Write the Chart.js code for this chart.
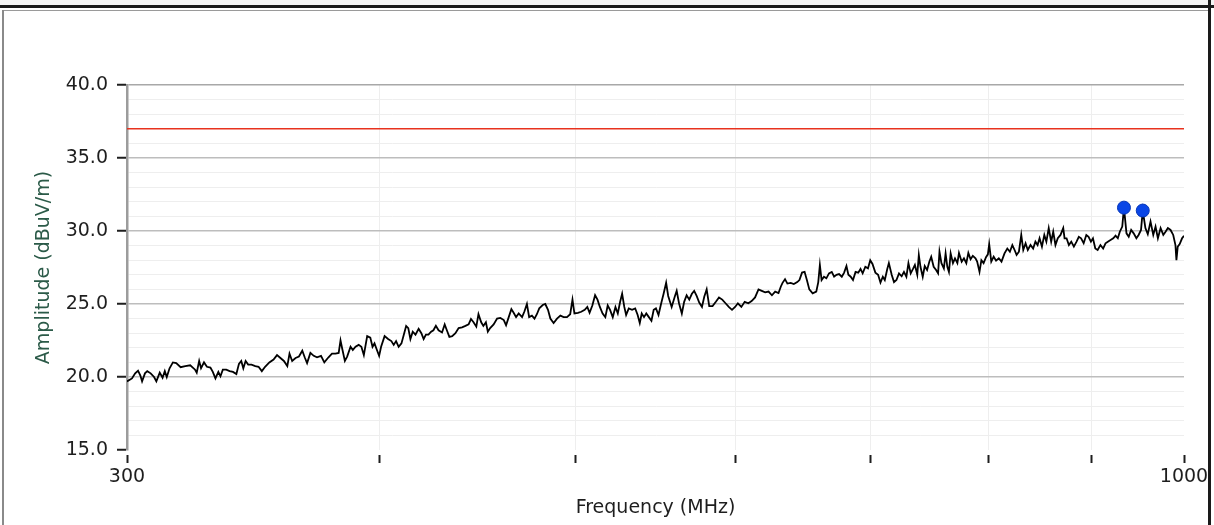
<!DOCTYPE html>
<html>
<head>
<meta charset="utf-8">
<script src="https://cdn.jsdelivr.net/npm/chart.js@4.4.1/dist/chart.umd.min.js"></script>
<style>
  html, body { margin: 0; padding: 0; background: #fff; }
  #wrap { position: relative; width: 1214px; height: 525px; overflow: hidden; }
  #my_graph { position: absolute; left: 0; top: 0; }
  .edge { position: absolute; pointer-events: none; }
</style>
</head>
<body>
<div id="wrap">
  <canvas id="my_graph" width="1214" height="525"></canvas>
  <div class="edge" style="left:0;top:0;width:1214px;height:5px;background:#f4f4f4;"></div>
  <div class="edge" style="left:0;top:5px;width:1214px;height:3px;background:#1a1a1a;"></div>
  <div class="edge" style="left:3px;top:10px;width:1206px;height:1px;background:#9a9a9a;"></div>
  <div class="edge" style="left:2px;top:10px;width:2px;height:515px;background:#8a8a8a;"></div>
  <div class="edge" style="left:1208px;top:0;width:3px;height:525px;background:#1a1a1a;"></div>
</div>
<script>
// measured trace, frequency in MHz / amplitude in dBuV/m
const freqMHz = [
  300.0, 301.7, 302.8, 303.8, 304.6, 305.2, 306.2, 307.0, 308.2, 309.4,
  310.2, 311.4, 312.4, 313.2, 313.9, 314.9, 316.1, 317.3, 318.9, 320.6,
  322.4, 324.2, 324.8, 325.7, 326.4, 327.5, 328.6, 329.9, 330.8, 331.8,
  332.9, 333.7, 334.6, 335.9, 337.2, 338.5, 339.8, 340.8, 341.7, 342.5,
  343.4, 344.4, 345.7, 347.2, 348.5, 349.8, 351.1, 352.8, 354.5, 355.9,
  357.3, 358.7, 360.1, 361.0, 362.1, 363.5, 364.9, 366.3, 367.3, 368.3,
  369.7, 371.1, 372.5, 374.2, 375.6, 377.4, 378.9, 380.4, 381.8, 382.6,
  383.3, 384.5, 385.5, 387.0, 388.0, 389.2, 390.6, 391.8, 392.9, 394.4,
  395.8, 396.8, 397.7, 398.8, 399.8, 400.7, 402.3, 403.9, 405.4, 406.5,
  407.6, 408.8, 410.1, 411.2, 412.3, 413.3, 414.3, 415.4, 416.7, 418.2,
  419.5, 420.6, 421.7, 422.9, 424.2, 425.3, 426.5, 427.8, 429.5, 430.8,
  432.0, 433.1, 434.5, 436.1, 437.7, 439.4, 441.1, 442.7, 443.9, 445.2,
  446.6, 447.7, 449.1, 450.2, 451.5, 452.5, 453.7, 455.5, 457.3, 459.0,
  460.8, 462.0, 463.4, 464.8, 466.0, 467.3, 468.7, 470.5, 471.8, 473.1,
  474.3, 475.8, 477.2, 478.5, 479.8, 481.7, 483.1, 484.6, 485.9, 487.7,
  489.6, 491.5, 493.3, 495.2, 497.0, 498.3, 499.4, 501.4, 503.3, 505.3,
  506.8, 508.1, 509.7, 511.3, 512.7, 514.1, 515.7, 517.3, 518.7, 520.1,
  521.7, 523.3, 524.7, 526.1, 527.3, 528.6, 529.7, 531.3, 533.3, 535.2,
  536.7, 538.0, 539.2, 540.6, 542.0, 543.6, 545.2, 546.6, 548.0, 549.6,
  551.3, 552.8, 554.4, 555.7, 557.9, 560.0, 561.1, 562.6, 564.4, 565.9,
  567.5, 569.2, 570.9, 572.4, 574.0, 575.7, 577.5, 579.0, 580.6, 582.3,
  584.5, 586.7, 588.8, 591.0, 593.2, 595.4, 597.6, 599.7, 601.6, 604.0,
  606.3, 608.8, 611.1, 613.5, 615.9, 618.2, 620.6, 623.0, 625.4, 627.7,
  630.1, 631.8, 633.0, 634.8, 636.5, 638.9, 641.2, 643.7, 645.3, 647.2,
  649.1, 650.8, 652.6, 655.1, 657.8, 659.3, 660.5, 661.8, 663.6, 665.4,
  667.4, 669.5, 671.3, 673.1, 675.1, 677.2, 679.0, 680.8, 682.3, 684.1,
  685.9, 687.9, 690.0, 691.8, 693.5, 695.6, 697.7, 699.5, 701.3, 703.6,
  705.8, 707.7, 709.6, 711.2, 713.2, 714.5, 716.8, 718.7, 720.7, 722.8,
  725.0, 726.9, 728.9, 730.6, 732.5, 734.4, 736.0, 738.0, 739.3, 740.7,
  742.6, 744.3, 746.3, 748.2, 749.8, 751.9, 754.0, 755.7, 756.9, 758.6,
  760.7, 762.2, 763.7, 765.1, 766.6, 768.6, 770.4, 772.5, 773.9, 776.3,
  778.3, 780.4, 782.2, 784.2, 786.2, 788.6, 790.1, 792.2, 793.9, 795.9,
  798.1, 799.8, 801.0, 802.9, 805.1, 807.3, 809.8, 812.3, 815.1, 817.7,
  820.1, 822.4, 824.5, 826.4, 828.6, 830.8, 832.7, 834.9, 837.0, 839.6,
  842.1, 844.3, 846.4, 848.3, 850.6, 852.9, 854.9, 857.2, 859.6, 861.6,
  863.8, 866.1, 868.8, 871.5, 872.8, 874.8, 877.1, 879.5, 882.1, 884.8,
  887.1, 889.4, 892.0, 894.7, 897.0, 899.4, 901.5, 903.9, 906.3, 909.2,
  912.0, 914.5, 916.9, 919.7, 922.6, 925.0, 927.4, 929.5, 932.1, 933.9,
  936.6, 939.0, 941.6, 944.3, 947.2, 949.6, 952.2, 954.1, 957.0, 959.6,
  962.6, 965.6, 968.1, 970.7, 973.7, 976.7, 979.2, 981.8, 984.8, 987.8,
  990.3, 991.4, 992.9, 995.1, 997.8, 1000.0
];
const amplitude = [
  19.70, 19.90, 20.25, 20.43, 20.10, 19.70, 20.25, 20.40, 20.25, 20.00,
  19.70, 20.30, 19.95, 20.40, 20.00, 20.60, 21.00, 20.95, 20.67, 20.75,
  20.80, 20.50, 20.30, 21.10, 20.60, 21.00, 20.70, 20.65, 20.35, 19.90,
  20.35, 20.05, 20.50, 20.50, 20.40, 20.35, 20.20, 20.90, 21.10, 20.60,
  21.10, 20.85, 20.85, 20.75, 20.70, 20.40, 20.70, 21.00, 21.20, 21.50,
  21.30, 21.10, 20.75, 21.60, 21.10, 21.30, 21.40, 21.80, 21.35, 20.95,
  21.65, 21.45, 21.35, 21.45, 21.00, 21.35, 21.60, 21.60, 21.65, 22.50,
  21.97, 21.10, 21.40, 22.07, 21.85, 22.07, 22.20, 22.07, 21.50, 22.80,
  22.70, 22.07, 22.30, 21.85, 21.45, 22.07, 22.80, 22.60, 22.46, 22.20,
  22.46, 22.07, 22.30, 22.90, 23.50, 23.35, 22.60, 23.10, 22.90, 23.30,
  23.00, 22.60, 22.90, 22.90, 23.10, 23.20, 23.50, 23.20, 23.05, 23.60,
  23.15, 22.75, 22.80, 23.00, 23.35, 23.40, 23.50, 23.60, 23.97, 23.75,
  23.45, 24.30, 23.75, 23.50, 23.75, 23.10, 23.35, 23.60, 24.00, 24.05,
  23.90, 23.55, 24.10, 24.65, 24.40, 24.10, 24.35, 24.10, 24.50, 25.00,
  24.10, 24.20, 24.00, 24.30, 24.70, 24.93, 25.00, 24.60, 24.00, 23.70,
  24.00, 24.20, 24.10, 24.10, 24.30, 25.30, 24.35, 24.40, 24.47, 24.60,
  24.80, 24.40, 24.90, 25.60, 25.30, 24.80, 24.35, 24.10, 24.90, 24.60,
  24.10, 24.80, 24.35, 25.15, 25.70, 24.80, 24.25, 24.70, 24.60, 24.70,
  24.25, 23.70, 24.35, 24.10, 24.35, 24.10, 23.85, 24.60, 24.70, 24.25,
  25.05, 25.70, 26.45, 25.55, 24.80, 25.55, 25.90, 25.05, 24.35, 25.15,
  25.60, 25.30, 25.70, 25.90, 25.55, 25.10, 24.80, 25.50, 26.00, 24.86,
  24.86, 25.15, 25.45, 25.30, 25.05, 24.80, 24.60, 24.80, 25.05, 24.80,
  25.15, 25.05, 25.20, 25.45, 26.00, 25.90, 25.80, 25.85, 25.60, 25.85,
  25.75, 26.20, 26.45, 26.70, 26.40, 26.45, 26.37, 26.50, 26.64, 27.15,
  27.20, 26.64, 26.00, 25.73, 25.85, 26.50, 27.67, 26.64, 26.87, 26.76,
  27.10, 27.20, 26.87, 27.00, 27.05, 26.87, 27.15, 27.60, 27.00, 26.87,
  26.64, 27.20, 27.15, 27.40, 27.10, 27.55, 27.44, 28.00, 27.74, 27.15,
  27.00, 26.47, 26.87, 26.64, 27.40, 27.80, 27.00, 26.50, 26.64, 27.10,
  26.90, 27.20, 26.87, 27.80, 27.10, 27.40, 27.67, 27.00, 28.36, 27.55,
  26.87, 27.60, 27.33, 27.90, 28.24, 27.55, 27.33, 27.10, 28.58, 27.80,
  27.44, 28.47, 27.55, 27.20, 28.47, 27.80, 28.13, 27.80, 28.50, 27.90,
  28.13, 27.80, 28.50, 28.06, 28.30, 28.13, 27.90, 27.20, 28.00, 27.80,
  28.20, 28.40, 29.10, 27.90, 28.24, 27.97, 28.13, 27.90, 28.47, 28.80,
  28.58, 29.04, 28.70, 28.36, 28.58, 29.73, 28.70, 29.16, 28.70, 29.04,
  28.80, 29.27, 29.04, 29.50, 28.93, 29.73, 29.27, 30.20, 29.27, 29.95,
  29.04, 29.50, 29.73, 30.20, 29.50, 29.50, 29.04, 29.27, 28.93, 29.27,
  29.60, 29.50, 29.16, 29.73, 29.60, 29.27, 29.50, 28.80, 28.70, 29.04,
  28.80, 29.16, 29.27, 29.38, 29.50, 29.68, 29.50, 29.95, 30.30, 31.60,
  29.84, 29.60, 30.07, 29.84, 29.50, 29.73, 30.07, 31.40, 30.20, 29.78,
  30.64, 29.73, 30.30, 29.50, 30.20, 29.73, 29.95, 30.20, 30.07, 29.73,
  29.04, 28.00, 28.93, 29.10, 29.50, 29.68
];
const peakFreq = [933.9, 954.1];
const peakAmp = [31.6, 31.4];
const limitFreq = [300, 1000];
const limitAmp = [37, 37];
const xTickValues = [300, 400, 500, 600, 700, 800, 900, 1000];
const xTickLabels = ['300', '', '', '', '', '', '', '1000'];

const ctx = document.getElementById('my_graph');
const labelFont = { family: 'DejaVu Sans', size: 19 };

const trace = freqMHz.map((f, i) => ({ x: f, y: amplitude[i] }));
const peaks = peakFreq.map((f, i) => ({ x: f, y: peakAmp[i] }));
const limit = limitFreq.map((f, i) => ({ x: f, y: limitAmp[i] }));

new Chart(ctx, {
  type: 'line',
  data: {
    datasets: [
      {
        label: 'Peaks',
        data: peaks,
        showLine: false,
        pointRadius: 6.5,
        pointBackgroundColor: '#0a46e6',
        pointBorderColor: '#0536b8',
        pointBorderWidth: 1
      },
      {
        label: 'Trace',
        data: trace,
        borderColor: '#000000',
        borderWidth: 1.8,
        pointRadius: 0,
        tension: 0
      },
      {
        label: 'Limit',
        data: limit,
        borderColor: '#e8321e',
        borderWidth: 1.5,
        pointRadius: 0
      }
    ]
  },
  options: {
    responsive: false,
    animation: false,
    layout: { padding: { left: 0, top: 85, right: 30, bottom: 0 } },
    plugins: {
      legend: { display: false },
      tooltip: { enabled: false }
    },
    scales: {
      x: {
        type: 'logarithmic',
        min: 300,
        max: 1000,
        afterBuildTicks: scale => {
          scale.ticks = xTickValues.map(v => ({ value: v }));
        },
        afterFit: scale => { scale.height = 75; },
        ticks: {
          autoSkip: false,
          maxRotation: 0,
          padding: 3,
          color: '#1e1e1e',
          font: labelFont,
          callback: (value) => {
            const i = xTickValues.indexOf(value);
            return i >= 0 ? xTickLabels[i] : '';
          }
        },
        grid: {
          color: c => (c.tick && (c.tick.value === 300 || c.tick.value === 1000)) ? 'rgba(0,0,0,0)' : '#eeeeee',
          lineWidth: 1,
          tickLength: 13,
          tickColor: '#1e1e1e',
          tickWidth: 2,
          tickBorderDash: [8, 5],
          tickBorderDashOffset: 8
        },
        border: { display: false },
        title: {
          display: true,
          text: 'Frequency (MHz)',
          color: '#1e1e1e',
          font: labelFont,
          padding: { top: 0, bottom: 6 }
        }
      },
      y: {
        type: 'linear',
        min: 15,
        max: 40,
        afterFit: scale => { scale.width = 127; },
        ticks: {
          stepSize: 1,
          autoSkip: false,
          padding: 5,
          color: '#1e1e1e',
          font: labelFont,
          callback: v => v % 5 === 0 ? v.toFixed(1) : ''
        },
        grid: {
          color: c => {
            const v = c.tick ? c.tick.value : 0;
            if (v === 15) return 'rgba(0,0,0,0)';
            if (v === 40) return '#a8a8a8';
            return v % 5 === 0 ? '#bdbdbd' : '#eeeeee';
          },
          lineWidth: c => (c.tick && c.tick.value % 5 === 0) ? 1.5 : 1,
          tickLength: 14,
          tickColor: c => (c.tick && c.tick.value % 5 === 0) ? '#1e1e1e' : 'rgba(0,0,0,0)',
          tickWidth: 2,
          tickBorderDash: [10, 4],
          tickBorderDashOffset: 10
        },
        border: { display: true, color: '#9c9c9c', width: 2.5 },
        title: {
          display: true,
          text: 'Amplitude (dBuV/m)',
          color: '#2b5a48',
          font: labelFont,
          padding: { top: 33, bottom: 0 }
        }
      }
    }
  }
});
</script>
</body>
</html>
